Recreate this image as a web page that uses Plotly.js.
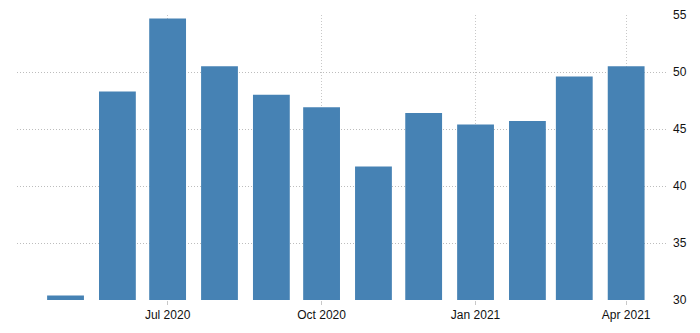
<!DOCTYPE html>
<html>
<head>
<meta charset="utf-8">
<script src="https://cdn.plot.ly/plotly-3.0.1.min.js"></script>
<style>html,body{margin:0;padding:0;background:#fff}#chart{width:700px;height:333px}</style>
</head>
<body>
<div id="chart"></div>
<script>
const months = ['2020-05-01','2020-06-01','2020-07-01','2020-08-01','2020-09-01','2020-10-01','2020-11-01','2020-12-01','2021-01-01','2021-02-01','2021-03-01','2021-04-01'];
const values = [30.4, 48.3, 54.7, 50.5, 48.0, 46.9, 41.7, 46.4, 45.4, 45.7, 49.6, 50.5];
const xTickVals = ['2020-07-01','2020-10-01','2021-01-01','2021-04-01'];
const xTickText = ['Jul 2020','Oct 2020','Jan 2021','Apr 2021'];
const yTickVals = [30, 35, 40, 45, 50, 55];

const DAY = 86400000;
const trace = {
  type: 'bar',
  x: months,
  y: values,
  width: months.map(() => 22 * DAY),
  marker: {color: '#4682B4'},
  hoverinfo: 'skip'
};
const layout = {
  width: 700, height: 333,
  margin: {l: 17, r: 32, t: 15, b: 33},
  paper_bgcolor: '#fff', plot_bgcolor: '#fff',
  showlegend: false,
  font: {family: 'Liberation Sans, Arial, sans-serif', size: 12, color: '#111'},
  xaxis: {
    type: 'date',
    range: ['2020-04-02', '2021-04-26'],
    tickvals: xTickVals, ticktext: xTickText,
    showgrid: true, gridcolor: '#c8c8c8', griddash: '1px,2px', gridwidth: 1,
    ticks: 'outside', ticklen: 4, tickcolor: '#c8c8c8', tickwidth: 1,
    zeroline: false, showline: false,
    tickfont: {size: 12, color: '#111'}
  },
  yaxis: {
    side: 'right',
    range: [30, 55],
    tickvals: yTickVals,
    showgrid: true, gridcolor: '#bdbdbd', griddash: '1px,2px', gridwidth: 1,
    ticks: '', zeroline: false, showline: false,
    ticklabelstandoff: 4,
    tickfont: {size: 12, color: '#111'}
  }
};
Plotly.newPlot('chart', [trace], layout, {displayModeBar: false, staticPlot: true});
</script>
</body>
</html>
